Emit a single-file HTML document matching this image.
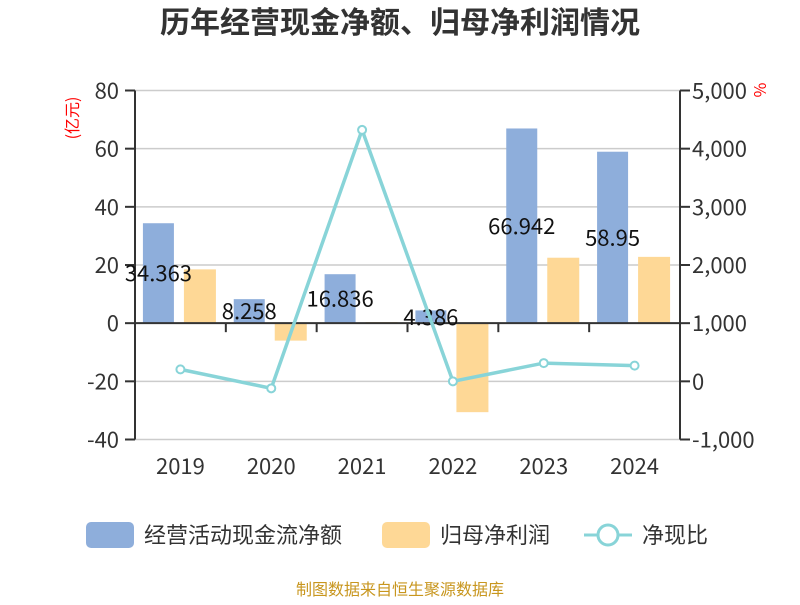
<!DOCTYPE html>
<html><head><meta charset="utf-8"><style>
body{margin:0;background:#fff;font-family:"Noto Sans CJK SC","Liberation Sans",sans-serif}
</style></head><body>
<svg id="c" width="800" height="600" xmlns="http://www.w3.org/2000/svg" font-family="Noto Sans CJK SC, Liberation Sans, sans-serif">
<text x="400" y="33" text-anchor="middle" font-size="30" font-weight="bold" fill="#333">历年经营现金净额、归母净利润情况</text>
<text transform="translate(78,118) rotate(-90)" text-anchor="middle" font-size="16" fill="red">(亿元)</text>
<text transform="translate(754,90) rotate(90)" text-anchor="middle" font-size="16" fill="red">%</text>
<g id="grid"></g><g id="bars"></g><g id="axes"></g><g id="line"></g>
<g>
<rect x="86" y="522" width="48" height="26" rx="5" fill="#8eaedb"/>
<text x="144" y="543" font-size="22" fill="#333">经营活动现金流净额</text>
<rect x="382" y="522" width="48" height="26" rx="5" fill="#fed896"/>
<text x="440" y="543" font-size="22" fill="#333">归母净利润</text>
<line x1="584" y1="535" x2="632" y2="535" stroke="#88d4d8" stroke-width="3"/>
<circle cx="608" cy="535" r="10" fill="#fff" stroke="#88d4d8" stroke-width="3"/>
<text x="642" y="543" font-size="22" fill="#333">净现比</text>
</g>
<text x="400" y="595" text-anchor="middle" font-size="16" fill="#c8961e">制图数据来自恒生聚源数据库</text>
</svg>
<script>
const categories=["2019","2020","2021","2022","2023","2024"];
const cashflow=[34.363,8.258,16.836,4.386,66.942,58.95];
const profit=[18.5,-6,0.4,-30.6,22.5,22.8];
const ratio=[206,-120,4322,0,314,270];
const leftTicks=[80,60,40,20,0,-20,-40];
const rightTicks=[5000,4000,3000,2000,1000,0,-1000];
const NS="http://www.w3.org/2000/svg";
const X0=135,X1=680,YT=90.5,YB=439.5;
const yL=v=>YT+(80-v)/120*(YB-YT);
const yR=v=>YT+(5000-v)/6000*(YB-YT);
const bw=(X1-X0)/categories.length;
const cx=i=>X0+bw*(i+0.5);
function mk(p,tag,a){const e=document.createElementNS(NS,tag);for(const k in a)e.setAttribute(k,a[k]);document.getElementById(p).appendChild(e);return e;}
leftTicks.forEach((t,i)=>{const y=yL(t);
 if(t!==0){const g=mk('grid','line',{x1:X0,x2:X1,y1:y,y2:y,stroke:'#ccc','stroke-width':1.5});
 
 }
 const tk=mk('axes','line',{x1:X0-10,x2:X0,y1:y,y2:y,stroke:'#333','stroke-width':2});
 
 
 const tx=mk('axes','text',{x:X0-16,y:y+8,'text-anchor':'end','font-size':22,fill:'#333'});tx.textContent=t;
 
 
});
rightTicks.forEach(t=>{const y=yR(t);
 const tk=mk('axes','line',{x1:X1,x2:X1+10,y1:y,y2:y,stroke:'#333','stroke-width':2});
 
 
 const tx=mk('axes','text',{x:X1+12,y:y+8,'font-size':22,fill:'#333'});tx.textContent=t.toLocaleString('en-US');
 
 
});
categories.forEach((c,i)=>{const m=cx(i);
 const b=mk('bars','rect',{x:m-37.5,width:31,y:Math.min(yL(0),yL(cashflow[i])),height:Math.abs(yL(cashflow[i])-yL(0)),fill:'#8eaedb'});
 
 
 const o=mk('bars','rect',{x:m+3.5,width:32,y:Math.min(yL(0),yL(profit[i])),height:Math.abs(yL(profit[i])-yL(0)),fill:'#fed896'});
 
 
 const lb=mk('line','text',{x:m-22,y:(yL(cashflow[i])+yL(0))/2+8,'text-anchor':'middle','font-size':22,fill:'#111'});lb.textContent=cashflow[i];
 
 
 const xt=mk('axes','text',{x:m,y:474,'text-anchor':'middle','font-size':22,fill:'#333'});xt.textContent=c;
 
 
 if(i>0){const t=mk('axes','line',{x1:X0+bw*i,x2:X0+bw*i,y1:yL(0),y2:yL(0)+9,stroke:'#333','stroke-width':2});
 
 }
});
const xa=mk('axes','line',{x1:X0,x2:X1,y1:yL(0),y2:yL(0),stroke:'#333','stroke-width':2});


const la=mk('axes','line',{x1:X0,x2:X0,y1:YT,y2:YB,stroke:'#333','stroke-width':2});


const ra=mk('axes','line',{x1:X1,x2:X1,y1:YT,y2:YB,stroke:'#333','stroke-width':2});


const pl=mk('line','polyline',{points:ratio.map((v,i)=>cx(i)+','+yR(v)).join(' '),fill:'none',stroke:'#88d4d8','stroke-width':3.5});


ratio.forEach((v,i)=>{const p=mk('line','circle',{cx:cx(i),cy:yR(v),r:4,fill:'#fff',stroke:'#88d4d8','stroke-width':2});
 
 });
</script>
</body></html>
